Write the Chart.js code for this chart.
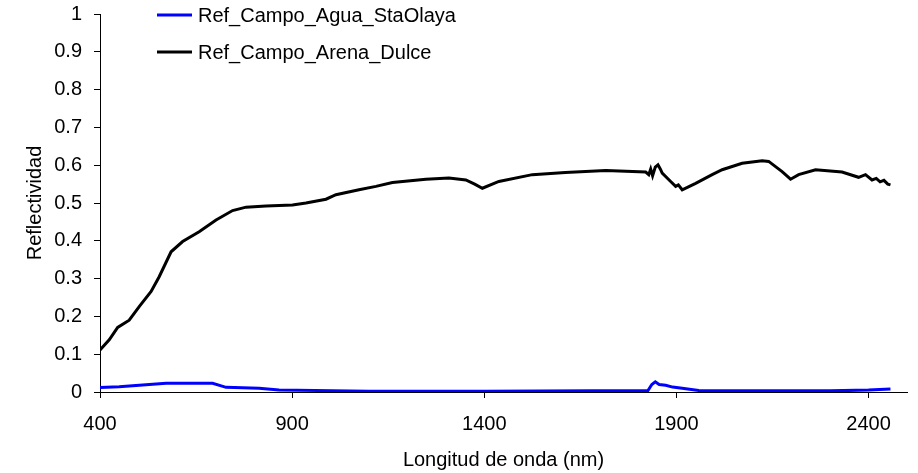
<!DOCTYPE html>
<html>
<head>
<meta charset="utf-8">
<script src="https://cdn.jsdelivr.net/npm/chart.js@4/dist/chart.umd.min.js"></script>
<style>
  html, body { margin: 0; padding: 0; background: #fff; }
  #chart { display: block; }
</style>
</head>
<body>
<canvas id="chart" width="918" height="473"></canvas>
<script>
// Ref_Campo_Arena_Dulce (black)
const arenaWl = [400, 424, 446, 476, 502, 533, 554, 585, 615, 658, 702, 745, 780, 832, 901, 936, 988, 1014, 1074, 1118, 1161, 1248, 1308, 1352, 1375, 1395, 1438, 1525, 1611, 1716, 1820, 1828, 1833, 1838, 1845, 1852, 1858, 1863, 1885, 1898, 1905, 1915, 1950, 1993, 2019, 2071, 2123, 2140, 2175, 2197, 2218, 2262, 2331, 2374, 2392, 2409, 2420, 2430, 2440, 2450, 2457];
const arenaRef = [0.111, 0.138, 0.171, 0.19, 0.226, 0.266, 0.305, 0.371, 0.398, 0.424, 0.455, 0.48, 0.489, 0.492, 0.495, 0.5, 0.51, 0.522, 0.535, 0.544, 0.554, 0.563, 0.566, 0.561, 0.55, 0.539, 0.557, 0.575, 0.581, 0.586, 0.582, 0.575, 0.59, 0.572, 0.595, 0.601, 0.59, 0.579, 0.557, 0.544, 0.548, 0.535, 0.552, 0.575, 0.588, 0.605, 0.612, 0.61, 0.583, 0.563, 0.575, 0.588, 0.582, 0.568, 0.575, 0.561, 0.565, 0.556, 0.56, 0.55, 0.548];

// Ref_Campo_Agua_StaOlaya (blue)
const aguaWl = [400, 450, 511, 572, 693, 728, 814, 866, 1004, 1100, 1400, 1826, 1836, 1845, 1855, 1872, 1890, 1915, 1958, 2300, 2400, 2457];
const aguaRef = [0.012, 0.014, 0.0185, 0.023, 0.023, 0.0124, 0.0097, 0.0053, 0.0035, 0.002, 0.002, 0.004, 0.02, 0.027, 0.02, 0.018, 0.013, 0.01, 0.004, 0.003, 0.005, 0.008];

const xTicks = [400, 900, 1400, 1900, 2400];
const yTicks = [0, 0.1, 0.2, 0.3, 0.4, 0.5, 0.6, 0.7, 0.8, 0.9, 1];

const FONT = "'Liberation Sans', Arial, sans-serif";
const FONT_SIZE = 20;

const toPoints = (xs, ys) => xs.map((x, i) => ({ x: x, y: ys[i] }));

// legend drawn inside the plot, top left, like the original
const insideLegend = {
  id: "insideLegend",
  afterDraw(chart) {
    const ctx = chart.ctx;
    const area = chart.chartArea;
    ctx.save();
    chart.data.datasets.forEach((ds, i) => {
      const y = area.top + 1 + i * 37;
      const x0 = area.left + 57;
      ctx.strokeStyle = ds.borderColor;
      ctx.lineWidth = 3;
      ctx.beginPath();
      ctx.moveTo(x0, y);
      ctx.lineTo(x0 + 35, y);
      ctx.stroke();
      ctx.fillStyle = "#000";
      ctx.font = FONT_SIZE + "px " + FONT;
      ctx.textBaseline = "middle";
      ctx.textAlign = "left";
      ctx.fillText(ds.label, x0 + 41, y + 1);
    });
    ctx.restore();
  },
};

new Chart(document.getElementById("chart"), {
  type: "line",
  data: {
    datasets: [
      {
        label: "Ref_Campo_Agua_StaOlaya",
        data: toPoints(aguaWl, aguaRef),
        borderColor: "#0000ff",
        borderWidth: 3,
        pointRadius: 0,
        tension: 0,
        order: 2,
      },
      {
        label: "Ref_Campo_Arena_Dulce",
        data: toPoints(arenaWl, arenaRef),
        borderColor: "#000000",
        borderWidth: 3,
        pointRadius: 0,
        tension: 0,
        order: 1,
      },
    ],
  },
  options: {
    responsive: false,
    animation: false,
    layout: { padding: { left: 0, right: 11, top: 14, bottom: 0 } },
    plugins: {
      legend: { display: false },
      tooltip: { enabled: false },
    },
    scales: {
      x: {
        type: "linear",
        min: 400,
        max: 2500,
        afterBuildTicks: (axis) => {
          axis.ticks = xTicks.map((v) => ({ value: v }));
        },
        afterFit: (axis) => {
          axis.height = 81;
          axis.paddingLeft = 0;
          axis.paddingRight = 0;
        },
        border: { display: true, color: "#000", width: 1 },
        grid: { display: true, drawOnChartArea: false, drawTicks: true, tickLength: 6, color: "#000" },
        ticks: {
          color: "#000",
          font: { family: FONT, size: FONT_SIZE },
          padding: 14,
          maxRotation: 0,
          callback: (v) => String(v),
        },
        title: {
          display: true,
          text: "Longitud de onda (nm)",
          color: "#000",
          font: { family: FONT, size: FONT_SIZE },
          padding: { top: 4, bottom: 1 },
        },
      },
      y: {
        min: 0,
        max: 1,
        afterBuildTicks: (axis) => {
          axis.ticks = yTicks.map((v) => ({ value: v }));
        },
        afterFit: (axis) => {
          axis.width = 100;
          axis.paddingTop = 0;
          axis.paddingBottom = 0;
        },
        border: { display: true, color: "#000", width: 1 },
        grid: { display: true, drawOnChartArea: false, drawTicks: true, tickLength: 6, color: "#000" },
        ticks: {
          color: "#000",
          font: { family: FONT, size: FONT_SIZE },
          padding: 12,
          callback: (v) => String(Math.round(v * 10) / 10),
        },
        title: {
          display: true,
          text: "Reflectividad",
          color: "#000",
          font: { family: FONT, size: FONT_SIZE },
          padding: { top: 23, bottom: 0 },
        },
      },
    },
  },
  plugins: [insideLegend],
});
</script>
</body>
</html>
